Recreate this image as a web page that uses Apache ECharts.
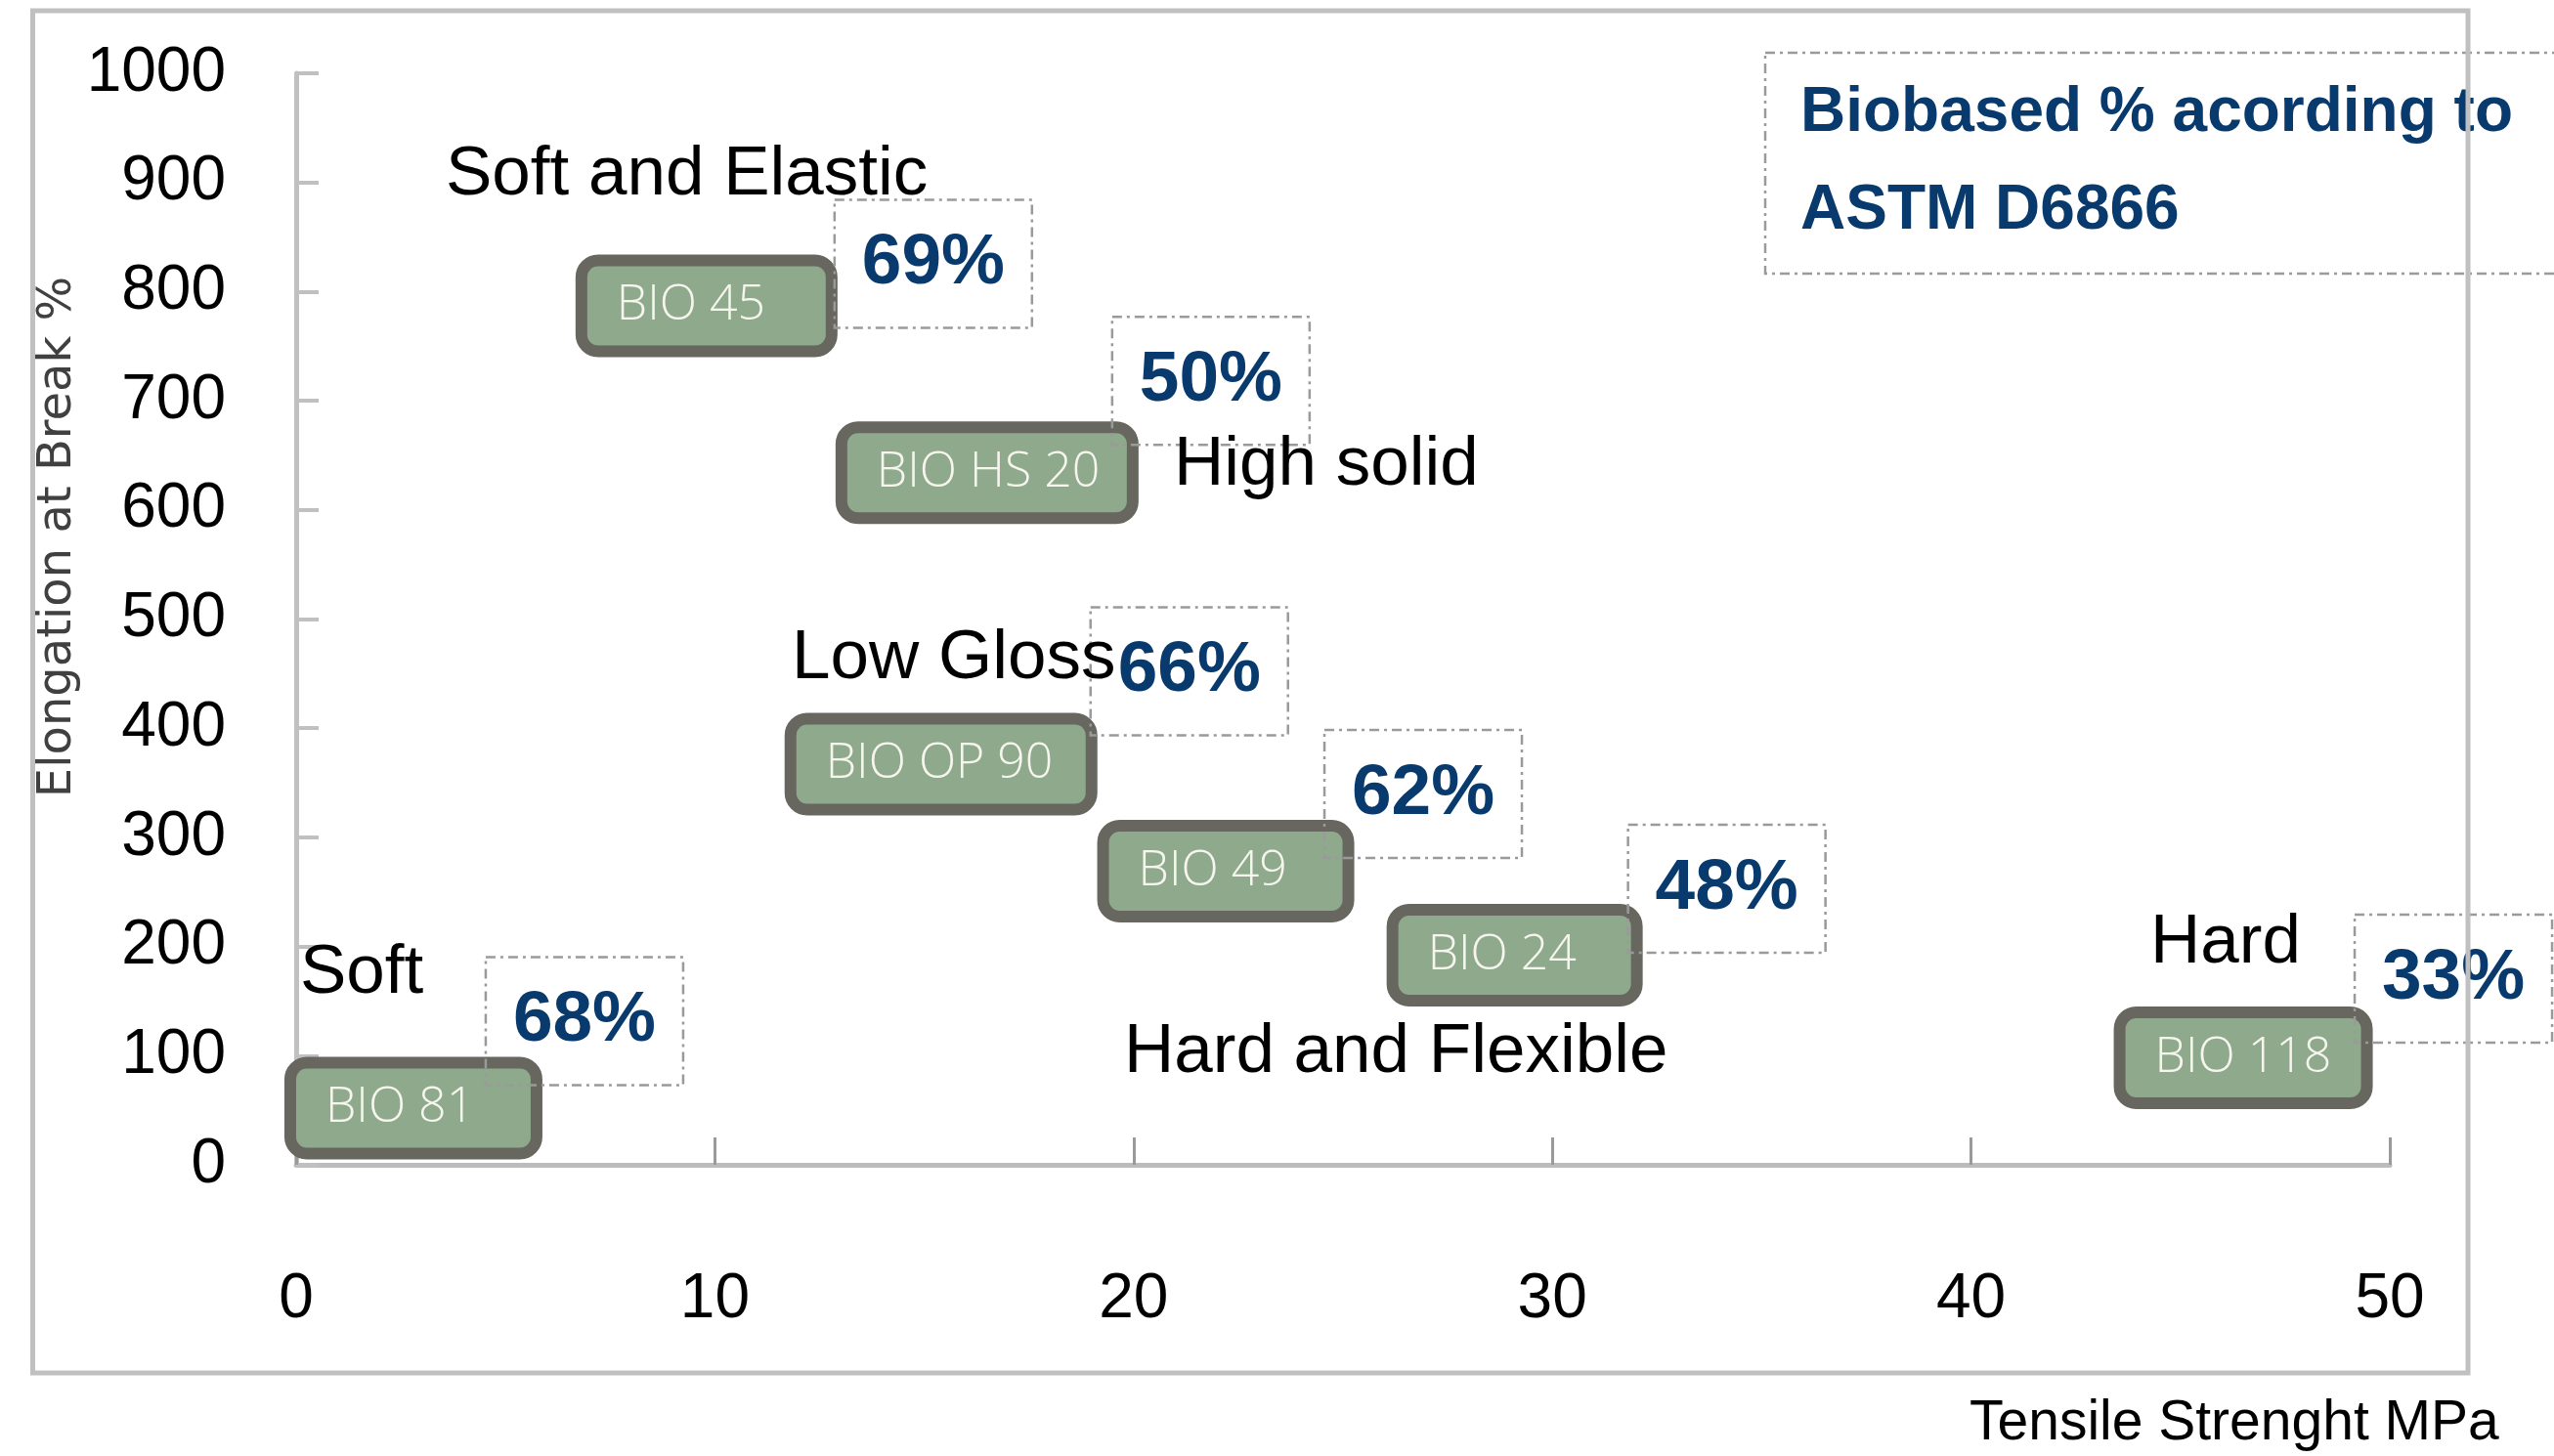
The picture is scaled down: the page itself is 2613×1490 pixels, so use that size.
<!DOCTYPE html>
<html><head><meta charset="utf-8">
<script src="https://cdn.jsdelivr.net/npm/echarts@6/dist/echarts.min.js"></script>
<style>html,body{margin:0;padding:0;background:#fff}#c{width:2613px;height:1490px}</style>
</head><body><div id="c"></div>
<script>
// ---- data ----
const products = ['BIO 45', 'BIO HS 20', 'BIO OP 90', 'BIO 49', 'BIO 24', 'BIO 81', 'BIO 118'];
const tensileStrength = [9.8, 16.5, 15.4, 22.2, 29.1, 2.8, 46.5];      // MPa
const elongationAtBreak = [787, 634, 367, 269, 192, 52, 98];            // %
const biobasedPercent = [69, 50, 66, 62, 48, 68, 33];                   // % (ASTM D6866)
const xAxisRange = [0, 50, 10];     // min, max, step
const yAxisRange = [0, 1000, 100];  // min, max, step
const categoryNotes = ['Soft and Elastic', 'High solid', 'Low Gloss', 'Hard and Flexible', 'Soft', 'Hard'];
const legendNote = ['Biobased % acording to', 'ASTM D6866'];

// ---- layout / style (not data) ----
const productBoxOuterWidth = [264, 306, 316, 259, 258, 260, 261];
const pctLabelOffset = [[232, -43], [229, -94], [254, -95], [202, -79], [217, -68], [175, -89], [215, -81]];
const notePos = [[456, 179], [1201, 476], [810, 674], [1150, 1077], [307, 996], [2200, 965]];
const FONT = 'Liberation Sans';
const NAVY = '#083a6e';
const BORDER_EXTRA = 8;

const chart = echarts.init(document.getElementById('c'), null, {renderer: 'canvas'});

const boxData = products.map((p, i) => {
  const rectW = productBoxOuterWidth[i] - 12 - BORDER_EXTRA;
  return {
    name: p,
    value: [tensileStrength[i], elongationAtBreak[i]],
    label: {width: rectW - 30, offset: [-rectW / 2, 0]}
  };
});
const pctData = products.map((p, i) => ({
  name: p,
  value: [tensileStrength[i], elongationAtBreak[i]],
  label: {offset: pctLabelOffset[i]}
}));

const graphics = [
  {type: 'rect', silent: true, z: 100, shape: {x: 33.5, y: 11, width: 2491.5, height: 1394},
   style: {fill: 'none', stroke: '#c0c0c0', lineWidth: 5}},
  {type: 'rect', silent: true, z: 50, shape: {x: 1806, y: 54, width: 900, height: 226},
   style: {fill: 'none', stroke: '#9a9a9a', lineWidth: 2.5, lineDash: [10, 5, 3, 5]}},
  {type: 'text', silent: true, z: 50, x: 1842, y: 66,
   style: {text: legendNote.join('\n'), font: 'bold 64px "Liberation Sans"', fill: NAVY,
           lineHeight: 100, verticalAlign: 'top', align: 'left'}}
];
categoryNotes.forEach((t, i) => {
  graphics.push({type: 'text', silent: true, z: 40, x: notePos[i][0], y: notePos[i][1],
    style: {text: t, font: '71px "Liberation Sans"', fill: '#000', verticalAlign: 'middle', align: 'left'}});
});

chart.setOption({
  animation: false,
  backgroundColor: '#fff',
  textStyle: {fontFamily: FONT},
  grid: {left: 303, top: 75, right: 168, bottom: 298, containLabel: false, outerBoundsMode: 'none'},
  xAxis: {
    type: 'value', min: xAxisRange[0], max: xAxisRange[1], interval: xAxisRange[2],
    axisLine: {show: true, onZero: false, lineStyle: {color: '#bcbcbc', width: 5}},
    axisTick: {show: true, inside: true, length: 28, lineStyle: {color: '#9a9a9a', width: 3}},
    splitLine: {show: false},
    axisLabel: {fontSize: 64, color: '#000', margin: 106, fontFamily: FONT, formatter: v => String(v)},
    name: 'Tensile Strenght MPa', nameLocation: 'end', nameGap: -430, nameMoveOverlap: false,
    nameTextStyle: {fontSize: 57, color: '#000', fontFamily: FONT, align: 'left', verticalAlign: 'top',
                    padding: [237, 0, 0, 0]}
  },
  yAxis: {
    type: 'value', min: yAxisRange[0], max: yAxisRange[1], interval: yAxisRange[2],
    axisLine: {show: true, onZero: false, lineStyle: {color: '#c0c0c0', width: 5}},
    axisTick: {show: true, inside: true, length: 23, lineStyle: {color: '#c0c0c0', width: 4}},
    splitLine: {show: false},
    axisLabel: {fontSize: 64, color: '#000', margin: 72, fontFamily: FONT, formatter: v => String(v)},
    name: 'Elongation at Break %', nameLocation: 'middle', nameRotate: 90, nameGap: 219, nameMoveOverlap: false,
    nameTextStyle: {fontFamily: 'DejaVu Sans', fontSize: 48, color: '#404040', padding: [0, 0, 0, 168]}
  },
  graphic: graphics,
  series: [
    {
      type: 'scatter', name: 'Products', data: boxData, symbolSize: 1, silent: true, z: 3,
      itemStyle: {color: 'transparent', opacity: 1},
      label: {
        show: true, position: 'inside', formatter: p => p.name, opacity: 1,
        align: 'left', verticalAlign: 'middle',
        fontFamily: 'Open Sans', fontWeight: 300, fontSize: 50, color: '#f6f6ef',
        backgroundColor: '#8ea98b', borderColor: '#67675f', borderWidth: 12, borderRadius: 11,
        padding: [0, 0, 8, 30], lineHeight: 73
      }
    },
    {
      type: 'scatter', name: 'Biobased %', data: pctData, symbolSize: 1, silent: true, z: 4,
      itemStyle: {color: 'transparent', opacity: 1},
      label: {
        show: true, position: 'inside', formatter: p => biobasedPercent[p.dataIndex] + '%', opacity: 1,
        align: 'center', verticalAlign: 'middle', width: 202, lineHeight: 131,
        fontFamily: FONT, fontWeight: 'bold', fontSize: 73, color: NAVY,
        borderColor: '#9a9a9a', borderWidth: 2.5, borderType: [10, 5, 3, 5]
      }
    }
  ]
});
</script></body></html>
